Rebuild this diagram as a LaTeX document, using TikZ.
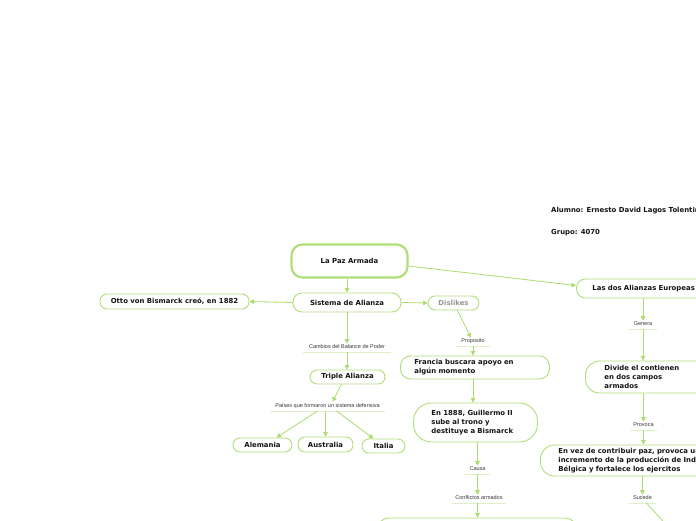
\documentclass[tikz,border=0pt]{standalone}
\usepackage{fontspec}
\setmainfont{DejaVu Sans}
\newfontfamily\lblfont{Liberation Sans}
\usetikzlibrary{arrows.meta}
\definecolor{gline}{RGB}{172,220,110}
\definecolor{gbox}{RGB}{176,222,120}
\definecolor{gul}{RGB}{222,240,200}
\definecolor{txt}{RGB}{20,20,20}
\definecolor{greytxt}{RGB}{150,150,150}
\tikzset{
  box/.style={draw=gbox, line width=0.9pt, rounded corners=7pt, inner sep=0pt,
    font=\fontsize{6.9}{9}\selectfont\bfseries, text=txt, align=center},
  lbox/.style={box, align=left, anchor=west},
  lbl/.style={anchor=south, inner ysep=2.5pt, inner xsep=0pt, text height=3.9pt, text depth=1pt,
    font=\lblfont\fontsize{5.5}{6}\selectfont, text=txt!85},
  ul/.style={draw=gul, line width=0.9pt},
  arr/.style={draw=gline, line width=0.8pt, -{Triangle[length=4.5pt,width=4.5pt]}},
  plain/.style={font=\fontsize{6.9}{9}\selectfont\bfseries, text=txt, inner sep=0pt, anchor=west}
}
\begin{document}
\begin{tikzpicture}[x=1pt,y=-1pt]
\clip (0,0) rectangle (696,520);
\fill[white] (0,0) rectangle (696,520);

% header texts
\node[plain] (alumno) at (551,211) {Alumno: Ernesto David Lagos Tolentino};
\node[plain] (grupo) at (551,233) {Grupo: 4070};

% main boxes
\node[box, line width=2.2pt, rounded corners=11pt, minimum width=116pt, minimum height=33pt] (paz) at (349.5,261) {La Paz Armada};
\node[box, rounded corners=9pt, minimum width=108pt, minimum height=19pt] (sis) at (347,302.5) {Sistema de Alianza};
\node[box, minimum width=149pt, minimum height=15pt] (otto) at (174.5,301.5) {Otto von Bismarck creó, en 1882};
\node[box, text=greytxt, minimum width=51pt, minimum height=14pt] (dis) at (453.5,303) {Dislikes};
\node[lbox, rounded corners=9pt, text width=130pt, inner xsep=16pt, minimum height=19pt] (dos) at (576,288.5) {Las dos Alianzas Europeas};

\node[box, minimum width=75pt, minimum height=14pt] (tri) at (347.5,377) {Triple Alianza};
\node[box, minimum width=59pt, minimum height=14pt] (ale) at (262.5,445) {Alemania};
\node[box, minimum width=55pt, minimum height=15pt] (aus) at (325.5,444.5) {Australia};
\node[box, minimum width=43pt, minimum height=14pt] (ita) at (383.5,446) {Italia};

\node[lbox, rounded corners=10pt, text width=121pt, inner xsep=14pt, minimum height=23pt] (fra) at (400,367.5) {Francia buscara apoyo en\\algún momento};
\node[lbox, rounded corners=18pt, text width=88pt, inner xsep=18pt, minimum height=39pt] (g88) at (413,422.5) {En 1888, Guillermo II\\sube al trono y\\destituye a Bismarck};
\node[box, rounded corners=12pt, minimum width=200pt, minimum height=44pt] (bot) at (477,540) {};

\node[lbox, rounded corners=14pt, text width=120pt, inner xsep=19pt, minimum height=32pt] (div) at (585,377) {Divide el contienen\\en dos campos\\armados};
\node[lbox, rounded corners=14pt, text width=220pt, inner xsep=18pt, minimum height=31pt] (vez) at (540,460.5) {En vez de contribuir paz, provoca un\\incremento de la producción de Industria\\Bélgica y fortalece los ejercitos};

% labels
\node[lbl, minimum width=88pt] (c1) at (347,352) {Cambios del Balance de Poder};
\node[lbl, minimum width=115pt] (c2) at (327.5,411) {Países que formaron un sistema defensiva};
\node[lbl, minimum width=34pt] (c3) at (473,346) {Proposito};
\node[lbl, minimum width=25pt] (c4) at (477.5,474) {Causa};
\node[lbl, minimum width=54pt] (c5) at (479,503) {Conflictos armados};
\node[lbl, minimum width=28pt] (c6) at (643,329) {Genera};
\node[lbl, minimum width=27pt] (c7) at (643.5,430) {Provoca};
\node[lbl, minimum width=27pt] (c8) at (642.5,503) {Sucede};
\foreach \n in {c1,c2,c3,c4,c5,c6,c7,c8}{\draw[ul] (\n.south west) -- (\n.south east);}

\coordinate (sucend) at (678,538);

% connectors
\draw[arr] (paz.south -| sis.north) -- (sis.north);
\draw[arr] (sis.west) -- (otto.east);
\draw[arr] (sis.east) -- (dis.west);
\draw[arr] ([yshift=-5pt]paz.east) -- ([yshift=3pt]dos.west);
\draw[arr] (sis.south) -- ([yshift=-2pt]c1.north);
\draw[arr] (c1.south) -- (c1.south |- tri.north);
\draw[arr] ([xshift=-6pt]tri.south) -- ([xshift=5pt,yshift=-1pt]c2.north);
\draw[arr] ([xshift=-10pt]c2.south) -- ([xshift=14pt]ale.north);
\draw[arr] (c2.south -| aus.north) -- (aus.north);
\draw[arr] ([xshift=9pt]c2.south) -- ([xshift=-10pt]ita.north);
\draw[arr] ([xshift=4pt]dis.south) -- ([xshift=-2pt,yshift=-2pt]c3.north);
\draw[arr] (c3.south) -- (c3.south |- fra.north);
\draw[arr] (c3.south |- fra.south) -- (c3.south |- g88.north);
\draw[arr] (c4.north |- g88.south) -- ([yshift=-2pt]c4.north);
\draw[arr] (c4.south) -- ([yshift=-2pt]c5.north -| c4.south);
\draw[arr] (c5.south -| c4.south) -- (c4.south |- bot.north);
\draw[arr] (c6.north |- dos.south) -- ([yshift=-2pt]c6.north);
\draw[arr] (c6.south) -- (c6.south |- div.north);
\draw[arr] (c7.north |- div.south) -- ([yshift=-2pt]c7.north);
\draw[arr] (c7.south) -- (c7.south |- vez.north);
\draw[arr] (c8.north |- vez.south) -- ([yshift=-2pt]c8.north);
\draw[arr] ([xshift=4pt]c8.south) -- (sucend);
\end{tikzpicture}
\end{document}
